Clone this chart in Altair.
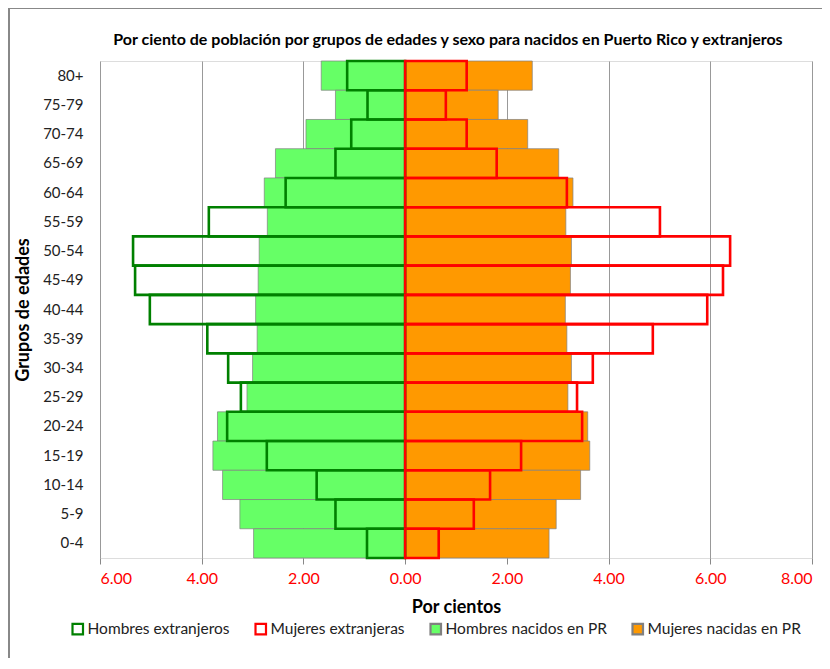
import altair as alt
import pandas as pd

# Age groups, top to bottom
grupos = ["80+", "75-79", "70-74", "65-69", "60-64", "55-59", "50-54", "45-49",
          "40-44", "35-39", "30-34", "25-29", "20-24", "15-19", "10-14", "5-9", "0-4"]

# Percent values
hombres_ext = [1.14, 0.74, 1.06, 1.37, 2.35, 3.86, 5.35, 5.31, 5.02, 3.89, 3.48, 3.23, 3.50, 2.72, 1.74, 1.37, 0.75]
mujeres_ext = [1.21, 0.80, 1.21, 1.80, 3.18, 5.01, 6.39, 6.25, 5.94, 4.87, 3.69, 3.38, 3.48, 2.28, 1.67, 1.35, 0.66]
hombres_pr = [1.65, 1.37, 1.95, 2.55, 2.77, 2.71, 2.87, 2.89, 2.94, 2.91, 3.00, 3.11, 3.69, 3.78, 3.59, 3.25, 2.98]
mujeres_pr = [2.50, 1.83, 2.41, 3.02, 3.30, 3.16, 3.27, 3.25, 3.15, 3.18, 3.27, 3.20, 3.59, 3.63, 3.45, 2.97, 2.83]

series = ["Hombres extranjeros", "Mujeres extranjeras", "Hombres nacidos en PR", "Mujeres nacidas en PR"]
x_ticks = [-6, -4, -2, 0, 2, 4, 6, 8]

rows = []
for i, g in enumerate(grupos):
    rows.append({"grupo": g, "serie": series[0], "valor": -hombres_ext[i], "tipo": "ext"})
    rows.append({"grupo": g, "serie": series[1], "valor": mujeres_ext[i], "tipo": "ext"})
    rows.append({"grupo": g, "serie": series[2], "valor": -hombres_pr[i], "tipo": "pr"})
    rows.append({"grupo": g, "serie": series[3], "valor": mujeres_pr[i], "tipo": "pr"})
df = pd.DataFrame(rows)

FONT = "Lato"

fill_scale = alt.Scale(domain=series, range=["transparent", "transparent", "#66FF66", "#FF9900"])
stroke_scale = alt.Scale(domain=series, range=["#008000", "#FF0000", "#808080", "#808080"])

x_enc = alt.X(
    "valor:Q", stack=None,
    scale=alt.Scale(domain=[-6, 8], nice=False),
    axis=alt.Axis(
        values=x_ticks, labelExpr="format(abs(datum.value), '.2f')",
        labelColor="#FF0000", labelFontSize=16, labelFont=FONT,
        tickColor="#888888", tickSize=6, labelPadding=6,
        grid=True, gridColor="#999999", domain=False,
        title="Por cientos", titleFont=FONT, titleFontSize=18, titleFontWeight="bold",
        titleColor="#000000", titlePadding=12,
    ),
)
y_enc = alt.Y(
    "grupo:N", sort=grupos,
    scale=alt.Scale(paddingInner=0, paddingOuter=0),
    axis=alt.Axis(
        ticks=False, domain=False, labelFontSize=15, labelFont=FONT, labelColor="#222222",
        labelPadding=17, title="Grupos de edades", titleFont=FONT, titleFontSize=18,
        titleFontWeight="bold", titleColor="#000000", titlePadding=10,
    ),
)

legend = alt.Legend(
    orient="none", legendX=-30, legendY=560, direction="horizontal", title=None,
    symbolType="square", symbolSize=110, symbolStrokeWidth=2.2, labelFont=FONT,
    labelFontSize=15.5, labelColor="#222222", labelOffset=2, columnPadding=21, labelLimit=0,
)

base = alt.Chart(df)

pr_bars = base.transform_filter(alt.datum.tipo == "pr").mark_bar(strokeWidth=0.7).encode(
    x=x_enc, y=y_enc,
    fill=alt.Fill("serie:N", scale=fill_scale, legend=legend),
    stroke=alt.Stroke("serie:N", scale=stroke_scale, legend=legend),
)

ext_bars = base.transform_filter(alt.datum.tipo == "ext").mark_bar(strokeWidth=2.6).encode(
    x=x_enc, y=y_enc,
    fill=alt.Fill("serie:N", scale=fill_scale, legend=legend),
    stroke=alt.Stroke("serie:N", scale=stroke_scale, legend=legend),
)

frame_df = pd.DataFrame({"k": [0]})
frame_top = alt.Chart(frame_df).mark_rule(color="#888888", strokeWidth=2).encode(
    x=alt.value(-92), x2=alt.value(730), y=alt.value(-53)
)
frame_left = alt.Chart(frame_df).mark_rule(color="#888888", strokeWidth=2).encode(
    x=alt.value(-91), y=alt.value(-54), y2=alt.value(620)
)

chart = alt.layer(frame_top, frame_left, pr_bars, ext_bars).properties(
    width=712, height=497,
    autosize=alt.AutoSizeParams(type="none"),
    padding={"left": 92, "top": 53, "right": 10, "bottom": 100},
    title=alt.Title(
        "Por ciento de población por grupos de edades y sexo para nacidos en Puerto Rico y extranjeros",
        font=FONT, fontSize=16, fontWeight="bold", color="#000000",
        anchor="middle", frame="group", offset=0, dx=-8, dy=42,
    ),
).configure_view(stroke="#888888", fill="#F9F9F9").configure(background="#FFFFFF")

chart.save("out.html", embed_options={"renderer": "svg", "actions": False})
